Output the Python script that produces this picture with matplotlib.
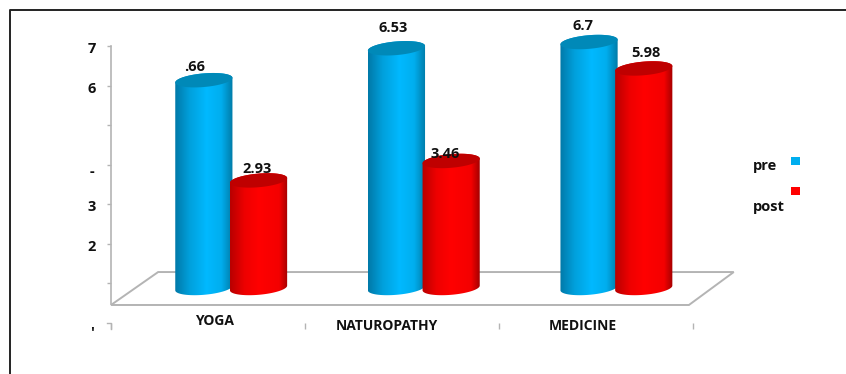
import numpy as np
import matplotlib
matplotlib.use("Agg")
import matplotlib.pyplot as plt
from matplotlib.colors import LinearSegmentedColormap
from matplotlib.lines import Line2D
from matplotlib.patches import Polygon, Rectangle

categories = ["YOGA", "NATUROPATHY", "MEDICINE"]
pre = [5.66, 6.53, 6.7]
post = [2.93, 3.46, 5.98]
pre_labels = [".66", "6.53", "6.7"]
post_labels = ["2.93", "3.46", "5.98"]
y_ticks = [1, 2, 3, 4, 5, 6, 7]
y_tick_labels = {2: "2", 3: "3", 4: "-", 6: "6", 7: "7", 0: "'"}

W, H = 846, 374
GRAY = "#b4b4b4"
TEXT = "#111111"

plt.rcParams["font.family"] = ["Open Sans", "DejaVu Sans"]
plt.rcParams["font.weight"] = "bold"

blue_map = LinearSegmentedColormap.from_list(
    "blue", [(0, "#0079a8"), (0.25, "#00a0dc"), (0.55, "#00b9ff"), (0.8, "#00aeee"), (1, "#007ba8")])
red_map = LinearSegmentedColormap.from_list(
    "red", [(0, "#b80000"), (0.25, "#ee0000"), (0.5, "#ff0000"), (0.85, "#f40000"), (1, "#a40000")])


def px_axes(left, right, top, bottom):
    return fig.add_axes([left / W, 1 - bottom / H, (right - left) / W, (bottom - top) / H])


def cylinder(ax, x, value, width, cmap, top_color):
    # the tilted end caps are worked out in pixels, then mapped back to data units
    a, b, tilt = 28.7, 6.8, np.radians(5)
    x_px = (ax.get_window_extent().width) / np.ptp(ax.get_xlim())
    y_px = (ax.get_window_extent().height) / np.ptp(ax.get_ylim())

    def cap(t, y0):
        ex, ey = a * np.cos(t), b * np.sin(t)
        return np.column_stack([x + (ex * np.cos(tilt) - ey * np.sin(tilt)) / x_px,
                                y0 + (ex * np.sin(tilt) + ey * np.cos(tilt)) / y_px])

    lower = cap(np.linspace(np.pi, 2 * np.pi, 40), 0)
    upper = cap(np.linspace(0, np.pi, 40), value)
    body = Polygon(np.vstack([lower, upper]), closed=True, facecolor="none", edgecolor="none", zorder=3)
    ax.add_patch(body)
    im = ax.imshow(np.linspace(0, 1, 128).reshape(1, -1), cmap=cmap, aspect="auto", zorder=3,
                   extent=[x - width / 2, x + width / 2, -0.5, value + 0.5])
    im.set_clip_path(body)
    top = Polygon(cap(np.linspace(0, 2 * np.pi, 80), value), closed=True,
                  facecolor=top_color, edgecolor="none", zorder=3)
    ax.add_patch(top)


fig = plt.figure(figsize=(W / 100, H / 100), dpi=100, facecolor="white")

# value axis drawn on the back wall
ax = px_axes(111, 693, 46, 323)
ax.set_xlim(-0.5, 2.5)
ax.set_ylim(0, 7)
for side in ["top", "right", "bottom"]:
    ax.spines[side].set_visible(False)
ax.spines["left"].set_color(GRAY)
ax.spines["left"].set_linewidth(1.2)
ax.spines["left"].set_bounds(0.48, 7)
ax.set_yticks(y_ticks)
ax.set_yticklabels([])
ax.set_xticks([-0.5, 0.5, 1.5, 2.5])
ax.set_xticklabels([])
ax.tick_params(axis="y", length=3, width=1, color=GRAY)
ax.tick_params(axis="x", length=4.5, width=1, color=GRAY)
ax.plot([-0.5, -0.5, -0.52], [-0.16, 0, 0], color=GRAY, lw=1, clip_on=False)

for value, label in y_tick_labels.items():
    drop = {"-": 7, "'": 10}.get(label, 3)
    ax.annotate(label, (0, value), xycoords=("axes fraction", "data"), xytext=(-19, -drop),
                textcoords="offset pixels", ha="center", va="center", fontsize=10.5, color=TEXT)

label_offsets = [(7, 2), (-15, -3), (-13, -3)]
for i, name in enumerate(categories):
    ax.annotate(name, (i, 0), xytext=label_offsets[i], textcoords="offset pixels",
                ha="center", va="center", fontsize=10, color=TEXT, annotation_clip=False)

# floor of the plot area
floor = [(0, 0.065), (0.993, 0.065), (1.07, 0.184), (0.081, 0.184)]
ax.add_patch(Polygon(floor, closed=True, transform=ax.transAxes, facecolor="white", edgecolor=GRAY,
                     linewidth=1.4, clip_on=False, zorder=1))

# cylinders sit on their own scale, shifted onto the floor; it runs below zero to leave room for the base
bars = px_axes(134.9, 712.7, 31, 324.7)
bars.set_xlim(-0.5, 2.5)
bars.set_ylim(-1, 7)
bars.patch.set_alpha(0)
bars.axis("off")

offset = 0.142
width = 0.298
for i in range(len(categories)):
    cylinder(bars, i - offset, pre[i], width, blue_map, "#0089b8")
    cylinder(bars, i + offset, post[i], width, red_map, "#bf0000")
bars.set_xlim(-0.5, 2.5)
bars.set_ylim(-1, 7)

pre_offsets = [(-9, 13), (-3, 20), (-6, 16)]
post_offsets = [(-1, 11.5), (-6, 7), (2, 15)]
for i in range(len(categories)):
    bars.annotate(pre_labels[i], (i - offset, pre[i]), xytext=pre_offsets[i], textcoords="offset pixels",
                  ha="center", va="center", fontsize=10.5, color=TEXT, zorder=5, annotation_clip=False)
    bars.annotate(post_labels[i], (i + offset, post[i]), xytext=post_offsets[i], textcoords="offset pixels",
                  ha="center", va="center", fontsize=10.5, color=TEXT, zorder=5, annotation_clip=False)

# legend, laid out by hand
fig.text(753 / W, 1 - 166 / H, "pre", ha="left", va="center", fontsize=10.5, color=TEXT)
fig.text(753 / W, 1 - 207 / H, "post", ha="left", va="center", fontsize=10.5, color=TEXT)
fig.add_artist(Rectangle((791 / W, 1 - 165 / H), 8.5 / W, 8.5 / H, transform=fig.transFigure,
                         facecolor="#00aeef", edgecolor="none"))
fig.add_artist(Rectangle((791 / W, 1 - 195 / H), 8.5 / W, 8.5 / H, transform=fig.transFigure,
                         facecolor="#ff0000", edgecolor="none"))

# outer frame, open on the right and at the bottom
fig.add_artist(Line2D([9.5 / W, 9.5 / W, 1], [0, 1 - 9.5 / H, 1 - 9.5 / H], transform=fig.transFigure,
                      color="#222222", lw=1.4))

fig.savefig("out.png", dpi=100)
